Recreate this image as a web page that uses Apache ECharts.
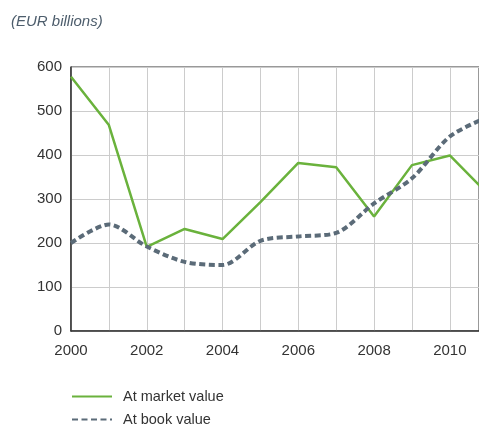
<!DOCTYPE html>
<html>
<head>
<meta charset="utf-8">
<script src="https://cdn.jsdelivr.net/npm/echarts@6/dist/echarts.min.js"></script>
<style>
  html, body { margin: 0; padding: 0; background: #fff; }
  #chart { width: 479px; height: 426px; }
</style>
</head>
<body>
<div id="chart"></div>
<script>
const years = [2000, 2001, 2002, 2003, 2004, 2005, 2006, 2007, 2008, 2009, 2010, 2011]
const marketValue = [578, 468, 191, 232, 209, 293, 382, 372, 260, 377, 399, 312]
const bookValue = [200, 242, 192, 157, 150, 205, 215, 223, 290, 347, 442, 486]
const yTicks = [0, 100, 200, 300, 400, 500, 600]
const seriesNames = ['At market value', 'At book value']

const pairs = (vals) => years.map((y, i) => [y, vals[i]])

// one legend block per row, stacked
const legendRow = (name, top) => ({
    left: 66,
    top: top,
    itemWidth: 40,
    itemHeight: 10,
    itemStyle: { opacity: 0 },
    textStyle: { fontSize: 14.5, color: '#333', padding: [0, 0, 0, 6] },
    data: [name]
})

const chart = echarts.init(document.getElementById('chart'))
chart.setOption({
    backgroundColor: '#fff',
    animation: false,
    textStyle: { fontFamily: 'Liberation Sans' },
    title: {
        text: '(EUR billions)',
        left: 11,
        top: 14,
        padding: 0,
        textStyle: { fontSize: 15, fontStyle: 'italic', fontWeight: 'normal', color: '#4d5d6c' }
    },
    legend: [legendRow(seriesNames[0], 384), legendRow(seriesNames[1], 407)],
    grid: {
        left: 71, top: 67, bottom: 95, right: 0,
        show: true, borderColor: '#333', borderWidth: 1
    },
    xAxis: {
        type: 'value',
        min: 2000, max: 2010.77, interval: 1,
        axisLine: { show: true, lineStyle: { color: '#333', width: 1.5 } },
        axisTick: { show: false },
        splitLine: { show: true, lineStyle: { color: '#ccc', width: 1 } },
        axisLabel: {
            fontSize: 15, color: '#333', margin: 12, showMaxLabel: false,
            formatter: v => (v % 2 === 0) ? String(v) : ''
        }
    },
    yAxis: {
        type: 'value',
        min: yTicks[0], max: yTicks[yTicks.length - 1], interval: 100,
        axisLine: { show: true, lineStyle: { color: '#333', width: 1.5 } },
        axisTick: { show: false },
        splitLine: { show: true, lineStyle: { color: '#ccc', width: 1 } },
        axisLabel: { fontSize: 15, color: '#333', margin: 9 }
    },
    series: [
        {
            name: seriesNames[0],
            type: 'line',
            data: pairs(marketValue),
            showSymbol: false,
            symbol: 'none',
            color: '#6ab23c',
            lineStyle: { color: '#6ab23c', width: 2.5 }
        },
        {
            name: seriesNames[1],
            type: 'line',
            data: pairs(bookValue),
            smooth: 0.3,
            showSymbol: false,
            symbol: 'none',
            color: '#5b6b78',
            lineStyle: { color: '#5b6b78', width: 4, type: [6, 3.5] }
        }
    ]
})
</script>
</body>
</html>
